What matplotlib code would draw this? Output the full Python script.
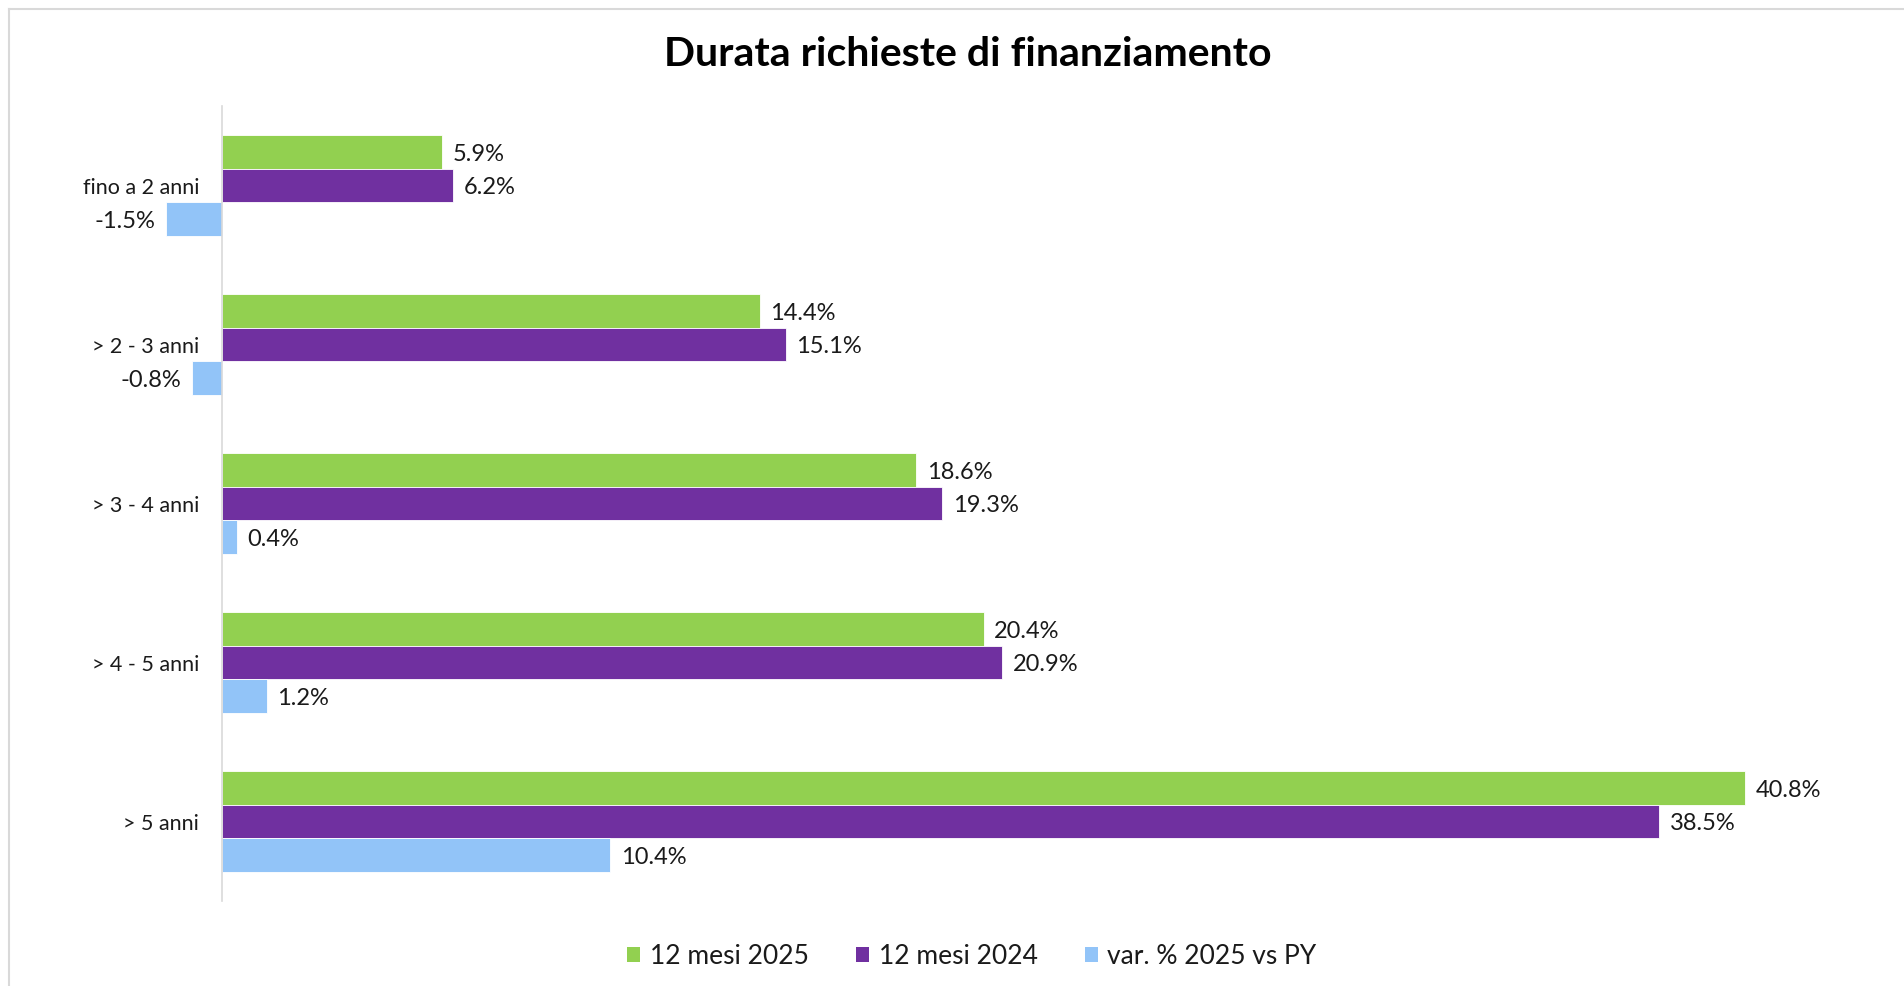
import matplotlib.pyplot as plt
import matplotlib.patches as patches
from matplotlib.lines import Line2D
import numpy as np

plt.rcParams["font.family"] = ["Lato", "DejaVu Sans"]

categories = ["fino a 2 anni", "> 2 - 3 anni", "> 3 - 4 anni", "> 4 - 5 anni", "> 5 anni"]
series_names = ["12 mesi 2025", "12 mesi 2024", "var. % 2025 vs PY"]
mesi_2025 = [5.9, 14.4, 18.6, 20.4, 40.8]
mesi_2024 = [6.2, 15.1, 19.3, 20.9, 38.5]
var_py = [-1.5, -0.8, 0.4, 1.2, 10.4]

COLORS = ["#92D050", "#7030A0", "#92C4F8"]
TEXT = "#1A1A1A"
GRID = "#D9D9D9"
LABEL_SIZE = 15.5
VALUE_SIZE = 17

W, H = 1904, 987
fig = plt.figure(figsize=(W / 100, H / 100), dpi=100, facecolor="white")

# outer chart border (only top and left visible in the crop)
fig.add_artist(Line2D([9 / W, 9 / W], [0, 1 - 10 / H], color=GRID, lw=1.5))
fig.add_artist(Line2D([9 / W, 1], [1 - 10 / H, 1 - 10 / H], color=GRID, lw=1.5))

# plot area: x=0 at 222 px, 37.33 px per unit
px_per = 37.33
x0_px = 222
xmin, xmax = -4, 44
left = (x0_px + xmin * px_per) / W
width = (xmax - xmin) * px_per / W
bottom = (H - 902) / H
top = (H - 107) / H
ax = fig.add_axes([left, bottom, width, top - bottom])

y = np.arange(len(categories))
bh = 0.21
series = [mesi_2025, mesi_2024, var_py]
offsets = [-bh, 0, bh]
for vals, off, col in zip(series, offsets, COLORS):
    bars = ax.barh(y + off, vals, height=bh, color=col, edgecolor="white", linewidth=0.6)
    for b, v in zip(bars, vals):
        yc = b.get_y() + b.get_height() / 2
        if v >= 0:
            ax.annotate(f"{v:.1f}%", (v, yc), xytext=(7.5, -1), textcoords="offset points",
                        ha="left", va="center", fontsize=VALUE_SIZE, color=TEXT)
        else:
            ax.annotate(f"{v:.1f}%", (v, yc), xytext=(-7.5, -1), textcoords="offset points",
                        ha="right", va="center", fontsize=VALUE_SIZE, color=TEXT)

ax.set_xlim(xmin, xmax)
ax.set_ylim(len(categories) - 0.5, -0.5)
for s in ["top", "right", "bottom"]:
    ax.spines[s].set_visible(False)
ax.spines["left"].set_position(("data", 0))
ax.spines["left"].set_color(GRID)
ax.spines["left"].set_linewidth(1.2)
ax.set_xticks([])
ax.set_yticks(y)
ax.set_yticklabels(categories)
ax.tick_params(axis="y", length=0, pad=16.5, labelsize=LABEL_SIZE, labelcolor=TEXT)
ax.patch.set_alpha(0)

fig.text(968 / W, 1 - 55 / H, "Durata richieste di finanziamento", ha="center", va="center",
         fontsize=29.5, fontweight="bold", color="black")

handles = [patches.Patch(facecolor=c, label=n) for c, n in zip(COLORS, series_names)]
fig.legend(handles=handles, loc="center", bbox_to_anchor=(972 / W, 30 / H), ncol=3,
           frameon=False, fontsize=19, handlelength=0.5, handleheight=0.5,
           handletextpad=0.35, columnspacing=1.8, labelcolor=TEXT)

fig.savefig("out.png", dpi=100, facecolor="white")
